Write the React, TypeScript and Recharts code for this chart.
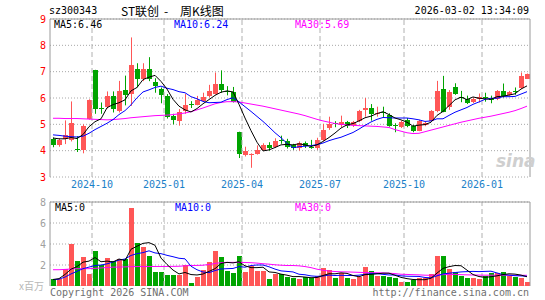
import React from "react";
import {
  ComposedChart,
  Bar,
  Line,
  XAxis,
  YAxis,
  CartesianGrid,
  ReferenceLine,
} from "recharts";

// weekly candles, labelled by the last trading day of the week
const weeks = [
  "2024-08-23", "2024-08-30", "2024-09-06", "2024-09-13", "2024-09-20", "2024-09-27", "2024-09-30", "2024-10-11", "2024-10-18", "2024-10-25",
  "2024-11-01", "2024-11-08", "2024-11-15", "2024-11-22", "2024-11-29", "2024-12-06", "2024-12-13", "2024-12-20", "2024-12-27", "2025-01-03",
  "2025-01-10", "2025-01-17", "2025-01-24", "2025-01-27", "2025-02-07", "2025-02-14", "2025-02-21", "2025-02-28", "2025-03-07", "2025-03-14",
  "2025-03-21", "2025-03-28", "2025-04-03", "2025-04-11", "2025-04-18", "2025-04-25", "2025-04-30", "2025-05-09", "2025-05-16", "2025-05-23",
  "2025-05-30", "2025-06-06", "2025-06-13", "2025-06-20", "2025-06-27", "2025-07-04", "2025-07-11", "2025-07-18", "2025-07-25", "2025-08-01",
  "2025-08-08", "2025-08-15", "2025-08-22", "2025-08-29", "2025-09-05", "2025-09-12", "2025-09-19", "2025-09-26", "2025-09-30", "2025-10-10",
  "2025-10-17", "2025-10-24", "2025-10-31", "2025-11-07", "2025-11-14", "2025-11-21", "2025-11-28", "2025-12-05", "2025-12-12", "2025-12-19",
  "2025-12-26", "2025-12-31", "2026-01-09", "2026-01-16", "2026-01-23", "2026-01-30", "2026-02-06", "2026-02-13", "2026-02-27", "2026-03-02",
];

const open = [
  4.45, 4.2, 4.45, 4.42, 4.05, 4.03, 5.2, 7.07, 5.62, 5.65,
  6.08, 5.52, 6.3, 6.15, 7.12, 6.74, 7.1, 6.6, 6.35, 6.08,
  5.3, 5.12, 5.52, 5.76, 5.75, 5.9, 6.06, 6.15, 6.52, 6.26,
  6.22, 4.7, 3.83, 3.86, 3.88, 4.03, 4.22, 4.13, 4.42, 4.35,
  4.2, 4.11, 4.3, 4.14, 4.11, 4.39, 4.85, 5.05, 4.98, 5.08,
  4.96, 5.12, 5.56, 5.62, 5.42, 5.47, 5.37, 4.97, 4.89, 5.17,
  4.93, 4.76, 4.98, 5.14, 5.52, 6.34, 5.64, 6.43, 6.04, 5.96,
  5.83, 5.96, 6.03, 5.97, 5.96, 6.27, 6.12, 6.28, 6.38, 6.74,
];
const high = [
  4.5, 4.47, 5.15, 5.87, 4.55, 5.0, 5.95, 7.07, 5.83, 6.25,
  6.25, 6.65, 6.85, 8.3, 7.32, 7.32, 7.55, 6.75, 6.4, 6.15,
  5.4, 5.58, 6.15, 5.88, 6.08, 6.2, 6.5, 6.97, 7.05, 6.45,
  6.42, 4.72, 4.15, 3.9, 4.2, 4.28, 4.32, 4.47, 4.57, 4.45,
  4.26, 4.35, 4.35, 4.41, 4.49, 5.02, 5.29, 5.12, 5.33, 5.13,
  5.13, 5.55, 6.0, 5.77, 5.67, 5.67, 5.42, 5.04, 5.14, 5.24,
  4.98, 5.17, 5.1, 5.54, 6.65, 6.84, 6.3, 6.56, 6.27, 6.09,
  6.02, 6.17, 6.2, 6.09, 6.3, 6.55, 6.27, 6.4, 6.97, 6.93,
];
const low = [
  4.13, 4.15, 4.25, 4.35, 3.95, 3.9, 5.18, 5.4, 5.4, 5.6,
  5.45, 5.45, 5.72, 5.7, 6.4, 6.64, 6.64, 6.2, 5.8, 5.22,
  5.0, 4.95, 5.4, 5.62, 5.72, 5.87, 6.02, 6.13, 6.2, 6.1,
  5.83, 3.72, 3.78, 3.35, 3.85, 4.0, 4.0, 4.1, 4.26, 4.08,
  4.03, 4.0, 4.1, 4.07, 4.03, 4.36, 4.79, 4.89, 4.89, 4.86,
  4.9, 5.08, 5.29, 5.14, 5.29, 5.28, 4.91, 4.7, 4.86, 4.89,
  4.7, 4.74, 4.93, 5.12, 5.46, 5.46, 5.55, 6.12, 5.84, 5.77,
  5.81, 5.83, 5.86, 5.8, 5.92, 6.02, 6.09, 6.12, 6.34, 6.72,
];
const close = [
  4.2, 4.42, 4.6, 5.05, 4.02, 4.95, 5.92, 5.58, 5.6, 6.08,
  5.58, 6.28, 6.12, 7.27, 6.74, 7.1, 6.74, 6.45, 6.12, 5.27,
  5.15, 5.45, 5.75, 5.74, 5.93, 6.05, 6.25, 6.55, 6.3, 6.22,
  5.85, 3.88, 3.97, 3.87, 4.03, 4.2, 4.1, 4.38, 4.4, 4.13,
  4.11, 4.28, 4.17, 4.13, 4.39, 4.8, 5.02, 5.03, 5.08, 4.95,
  5.08, 5.5, 5.63, 5.39, 5.44, 5.45, 4.95, 4.95, 5.08, 4.95,
  4.74, 5.12, 5.05, 5.52, 6.27, 5.48, 6.24, 6.15, 6.02, 5.8,
  5.98, 6.02, 6.01, 5.95, 6.27, 6.09, 6.24, 6.26, 6.84, 6.9,
];

const ma5 = [
  4.48, 4.45, 4.45, 4.5, 4.46, 4.61, 4.91, 5.1, 5.21, 5.63,
  5.75, 5.82, 5.93, 6.27, 6.4, 6.7, 6.79, 6.86, 6.63, 6.34,
  5.95, 5.69, 5.55, 5.47, 5.6, 5.78, 5.94, 6.1, 6.22, 6.27,
  6.23, 5.76, 5.24, 4.76, 4.32, 3.99, 4.03, 4.12, 4.22, 4.24,
  4.22, 4.26, 4.22, 4.16, 4.22, 4.35, 4.5, 4.67, 4.86, 4.98,
  5.03, 5.13, 5.25, 5.31, 5.41, 5.48, 5.37, 5.24, 5.17, 5.08,
  4.93, 4.97, 4.99, 5.08, 5.34, 5.49, 5.71, 5.93, 6.03, 5.94,
  6.04, 5.99, 5.97, 5.95, 6.05, 6.07, 6.11, 6.16, 6.34, 6.46,
];
const ma10 = [
  4.6, 4.58, 4.55, 4.53, 4.52, 4.55, 4.66, 4.8, 4.92, 5.04,
  5.18, 5.37, 5.52, 5.74, 6.01, 6.23, 6.31, 6.4, 6.45, 6.37,
  6.32, 6.24, 6.2, 6.05, 5.97, 5.87, 5.82, 5.83, 5.84, 5.94,
  6.01, 5.85, 5.67, 5.49, 5.3, 5.11, 4.9, 4.68, 4.49, 4.28,
  4.11, 4.15, 4.17, 4.19, 4.23, 4.29, 4.38, 4.45, 4.51, 4.6,
  4.69, 4.82, 4.96, 5.09, 5.19, 5.26, 5.25, 5.24, 5.24, 5.24,
  5.21, 5.17, 5.11, 5.13, 5.21, 5.21, 5.34, 5.46, 5.55, 5.64,
  5.76, 5.85, 5.95, 5.99, 5.99, 6.05, 6.05, 6.06, 6.15, 6.24,
];
const ma30 = [
  5.23, 5.23, 5.22, 5.22, 5.22, 5.21, 5.2, 5.19, 5.18, 5.17,
  5.18, 5.2, 5.22, 5.25, 5.27, 5.29, 5.31, 5.33, 5.34, 5.35,
  5.37, 5.4, 5.43, 5.48, 5.55, 5.62, 5.7, 5.78, 5.83, 5.86,
  5.86, 5.85, 5.81, 5.77, 5.73, 5.69, 5.64, 5.59, 5.54, 5.49,
  5.44, 5.39, 5.33, 5.26, 5.19, 5.13, 5.08, 5.03, 5.0, 4.98,
  4.96, 4.95, 4.94, 4.93, 4.92, 4.9, 4.88, 4.8, 4.74, 4.68,
  4.65, 4.66, 4.72, 4.78, 4.84, 4.9, 4.96, 5.02, 5.08, 5.13,
  5.18, 5.23, 5.27, 5.31, 5.36, 5.41, 5.46, 5.52, 5.6, 5.69,
];

// volume, millions of shares
const volume = [
  0.65, 0.65, 1.6, 4.0, 2.35, 2.75, 1.15, 3.3, 2.0, 2.65,
  2.35, 2.55, 2.55, 7.4, 4.1, 3.7, 2.9, 1.3, 1.3, 1.05,
  1.05, 1.05, 2.0, 0.3, 0.85, 1.5, 2.3, 3.3, 2.75, 1.4,
  1.25, 2.85, 1.35, 1.9, 1.4, 1.45, 0.62, 1.1, 1.1, 0.9,
  0.75, 0.65, 0.85, 0.8, 1.0, 1.7, 1.5, 0.8, 1.25, 0.75,
  0.7, 0.9, 1.8, 1.4, 1.0, 1.0, 0.9, 0.8, 0.4, 0.4,
  0.6, 0.8, 0.8, 1.1, 2.85, 2.85, 1.6, 1.35, 1.0, 0.75,
  0.75, 0.65, 1.0, 1.25, 1.2, 1.35, 1.0, 0.85, 0.8, 0.4,
];
const volMa5 = [
  0.62, 0.7, 1.1, 1.6, 1.85, 2.27, 2.37, 2.71, 2.31, 2.37,
  2.29, 2.57, 2.42, 3.5, 3.79, 4.06, 4.13, 3.88, 2.66, 2.05,
  1.52, 1.15, 1.29, 1.09, 1.05, 1.14, 1.39, 1.65, 2.14, 2.25,
  2.2, 2.31, 1.92, 1.75, 1.75, 1.79, 1.34, 1.29, 1.13, 1.03,
  0.89, 0.9, 0.85, 0.79, 0.81, 1.0, 1.17, 1.16, 1.25, 1.2,
  1.0, 0.88, 1.08, 1.11, 1.16, 1.22, 1.22, 1.02, 0.82, 0.7,
  0.62, 0.6, 0.6, 0.74, 1.23, 1.68, 1.84, 1.95, 1.93, 1.51,
  1.09, 0.9, 0.83, 0.88, 0.97, 1.09, 1.16, 1.13, 1.04, 0.88,
];
const volMa10 = [
  0.6, 0.65, 0.85, 1.15, 1.4, 1.65, 1.8, 1.95, 2.0, 2.11,
  2.28, 2.47, 2.57, 2.91, 3.08, 3.18, 3.35, 3.15, 3.08, 2.92,
  2.79, 2.64, 2.59, 1.88, 1.55, 1.33, 1.27, 1.47, 1.62, 1.65,
  1.67, 1.85, 1.79, 1.95, 2.0, 2.0, 1.83, 1.61, 1.44, 1.39,
  1.34, 1.12, 1.07, 0.96, 0.92, 0.95, 1.04, 1.0, 1.02, 1.0,
  1.0, 1.03, 1.12, 1.18, 1.18, 1.11, 1.05, 1.05, 0.97, 0.93,
  0.92, 0.91, 0.81, 0.78, 0.97, 1.15, 1.22, 1.28, 1.34, 1.37,
  1.39, 1.37, 1.39, 1.41, 1.24, 1.09, 1.03, 0.98, 0.96, 0.93,
];
const volMa30 = [
  1.55, 1.55, 1.58, 1.62, 1.65, 1.65, 1.65, 1.68, 1.72, 1.76,
  1.8, 1.8, 1.82, 1.84, 1.85, 1.85, 1.85, 1.86, 1.86, 1.86,
  1.87, 1.88, 1.92, 1.95, 1.96, 1.98, 2.05, 2.15, 2.22, 2.25,
  2.25, 2.25, 2.24, 2.22, 2.18, 2.12, 2.08, 2.02, 1.98, 1.95,
  1.95, 1.92, 1.85, 1.75, 1.6, 1.5, 1.42, 1.38, 1.35, 1.34,
  1.32, 1.3, 1.28, 1.27, 1.26, 1.25, 1.22, 1.18, 1.12, 1.1,
  1.08, 1.06, 1.03, 1.02, 1.05, 1.08, 1.1, 1.1, 1.08, 1.06,
  1.05, 1.04, 1.03, 1.03, 1.03, 1.03, 1.03, 1.02, 1.02, 1.02,
];

const monthStarts = ["2024-10-11", "2025-01-03", "2025-04-03", "2025-07-04", "2025-10-10", "2026-01-09"];
const monthLabels = ["2024-10", "2025-01", "2025-04", "2025-07", "2025-10", "2026-01"];
const priceTicks = [3, 4, 5, 6, 7, 8, 9];
const volTicks = [2, 4, 6, 8];

const RED = "#ff5656";
const GREEN = "#00a400";
const BORDER = "#9a9a9a";
const mono = "'DejaVu Sans Mono', 'Liberation Mono', monospace";
const cjk = "'Noto Sans CJK SC', sans-serif";

const rows = weeks.map((week, i) => ({
  week,
  open: open[i],
  high: high[i],
  low: low[i],
  close: close[i],
  range: [low[i], high[i]],
  ma5: ma5[i],
  ma10: ma10[i],
  ma30: ma30[i],
  vol: volume[i],
  vma5: volMa5[i],
  vma10: volMa10[i],
  vma30: volMa30[i],
}));

function Candle(props: any) {
  const { x, y, width, height, payload } = props;
  const { open: o, close: c, high: h, low: l } = payload;
  const color = c >= o ? RED : GREEN;
  const toY = (v: number) => y + ((h - v) / (h - l)) * height;
  const left = Math.floor(x);
  const w = Math.max(1, Math.round(width));
  const mid = left + Math.floor(w / 2) + 0.5;
  const top = Math.round(toY(Math.max(o, c)));
  const bottom = Math.round(toY(Math.min(o, c)));
  return (
    <g>
      <line x1={mid} x2={mid} y1={toY(h)} y2={toY(l)} stroke={color} strokeWidth={1} />
      <rect x={left} y={top} width={w} height={Math.max(1, bottom - top)} fill={color} />
    </g>
  );
}

function VolBar(props: any) {
  const { x, y, width, height, payload } = props;
  const color = payload.close >= payload.open ? RED : GREEN;
  const top = Math.round(y);
  const bottom = Math.round(y + height);
  return <rect x={Math.floor(x)} y={top} width={Math.max(1, Math.round(width))} height={Math.max(1, bottom - top)} fill={color} />;
}

const text = (left: number, top: number, color: string, extra: any = {}) => ({
  position: "absolute" as const,
  left,
  top,
  color,
  fontFamily: mono,
  fontSize: 10,
  lineHeight: "10px",
  whiteSpace: "pre" as const,
  ...extra,
});

const titleStyle = { fontFamily: cjk, fontSize: 12, lineHeight: "12px" };

export default function App() {
  const last = weeks.length - 1;
  return (
    <div style={{ position: "absolute", left: 0, top: 0, width: 545, height: 300, background: "#fff" }}>
      <div style={{ position: "absolute", left: 0, top: 0 }}>
        <ComposedChart width={545} height={190} data={rows} margin={{ top: 19, right: 15, bottom: 13, left: 0 }}>
          <CartesianGrid vertical={false} stroke="#a8a8a8" strokeDasharray="1 2" />
          <XAxis dataKey="week" height={0} tick={false} tickLine={false} axisLine={{ stroke: BORDER }} />
          <YAxis
            width={50}
            domain={[3, 9]}
            ticks={priceTicks}
            interval={0}
            allowDataOverflow
            tickLine={false}
            tickSize={0}
            tickMargin={4}
            axisLine={{ stroke: BORDER }}
            tick={{ fill: "#ff0000", fontSize: 10, fontFamily: mono }}
          />
          {monthStarts.map((m, k) => (
            <ReferenceLine
              key={m}
              x={m}
              position="start"
              stroke="#b0b0b0"
              strokeDasharray="5 3"
              label={{ value: monthLabels[k], position: "bottom", offset: 4, fill: "#1a80c8", fontSize: 10, fontFamily: mono }}
            />
          ))}
          <ReferenceLine y={9} stroke={BORDER} />
          <ReferenceLine x={weeks[last]} position="end" stroke={BORDER} />
          <Bar dataKey="range" barSize={5} shape={(p: any) => <Candle {...p} />} isAnimationActive={false} />
          <Line dataKey="ma30" stroke="#ff00ff" strokeWidth={1} dot={false} activeDot={false} isAnimationActive={false} />
          <Line dataKey="ma10" stroke="#0000ff" strokeWidth={1} dot={false} activeDot={false} isAnimationActive={false} />
          <Line dataKey="ma5" stroke="#000000" strokeWidth={1} dot={false} activeDot={false} isAnimationActive={false} />
        </ComposedChart>
      </div>

      <div style={{ position: "absolute", left: 0, top: 190 }}>
        <ComposedChart width={545} height={96} data={rows} margin={{ top: 12, right: 15, bottom: 0, left: 0 }}>
          <CartesianGrid vertical={false} stroke="#a8a8a8" strokeDasharray="1 2" />
          <XAxis dataKey="week" height={0} tick={false} tickLine={false} axisLine={{ stroke: BORDER }} />
          <YAxis
            width={50}
            domain={[0, 8]}
            ticks={volTicks}
            interval={0}
            allowDataOverflow
            tickLine={false}
            tickSize={0}
            tickMargin={4}
            axisLine={{ stroke: BORDER }}
            tick={{ fill: "#a0a0a0", fontSize: 10, fontFamily: mono }}
          />
          {monthStarts.map((m) => (
            <ReferenceLine key={m} x={m} position="start" stroke="#b0b0b0" strokeDasharray="5 3" />
          ))}
          <ReferenceLine y={8} stroke={BORDER} />
          <ReferenceLine x={weeks[last]} position="end" stroke={BORDER} />
          <Bar dataKey="vol" barSize={5} shape={(p: any) => <VolBar {...p} />} isAnimationActive={false} />
          <Line dataKey="vma30" stroke="#ff00ff" strokeWidth={1} dot={false} activeDot={false} isAnimationActive={false} />
          <Line dataKey="vma10" stroke="#0000ff" strokeWidth={1} dot={false} activeDot={false} isAnimationActive={false} />
          <Line dataKey="vma5" stroke="#000000" strokeWidth={1} dot={false} activeDot={false} isAnimationActive={false} />
        </ComposedChart>
      </div>

      {/* header */}
      <div style={text(49, 6, "#000")}>sz300343</div>
      <div style={text(121, 5, "#000", titleStyle)}>ST联创</div>
      <div style={text(164, 5, "#000", titleStyle)}>-</div>
      <div style={text(180, 5, "#000", titleStyle)}>周K线图</div>
      <div style={text(0, 6, "#000", { left: "auto", right: 16 })}>2026-03-02 13:34:09</div>

      {/* MA readouts */}
      <div style={text(54, 20, "#000")}>MA5:{ma5[last].toFixed(2)}</div>
      <div style={text(174, 20, "#0000ff")}>MA10:{ma10[last].toFixed(2)}</div>
      <div style={text(295, 20, "#ff00ff")}>MA30:{ma30[last].toFixed(2)}</div>

      <div style={text(55, 203, "#000")}>MA5:0</div>
      <div style={text(175, 203, "#0000ff")}>MA10:0</div>
      <div style={text(295, 203, "#ff00ff")}>MA30:0</div>

      {/* watermark */}
      <div
        style={{
          position: "absolute",
          left: 496,
          top: 151,
          color: "#cfcfcf",
          fontFamily: "'DejaVu Sans', sans-serif",
          fontSize: 17,
          fontWeight: "bold",
          fontStyle: "italic",
          lineHeight: "20px",
        }}
      >
        sina
      </div>

      <div style={text(19, 281, "#b8b8b8", { fontFamily: cjk })}>x百万</div>
      <div style={text(50, 288, "#707070")}>Copyright 2026 SINA.COM</div>
      <div style={text(0, 288, "#707070", { left: "auto", right: 16 })}>http://finance.sina.com.cn</div>
    </div>
  );
}
